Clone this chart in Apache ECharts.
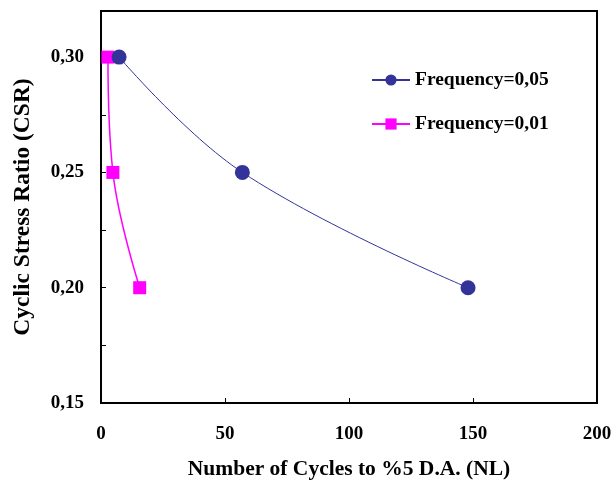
<!DOCTYPE html>
<html>
<head>
<meta charset="utf-8">
<script src="https://cdn.jsdelivr.net/npm/echarts@6/dist/echarts.min.js"></script>
<style>
  html, body { margin: 0; padding: 0; background: #fff; }
  #chart { width: 612px; height: 481px; }
</style>
</head>
<body>
<div id="chart"></div>
<script>
// data
var seriesNames = ["Frequency=0,05", "Frequency=0,01"];
var cycles005 = [7.3, 57, 148];
var csr005 = [0.30, 0.25, 0.20];
var cycles001 = [2.8, 4.8, 15.6];
var csr001 = [0.30, 0.25, 0.20];
var xTicks = [0, 50, 100, 150, 200];

function pairs(xs, ys) {
  return xs.map(function (x, i) { return [x, ys[i]]; });
}

var font = "Liberation Serif";
var chart = echarts.init(document.getElementById("chart"));

chart.setOption({
  animation: false,
  textStyle: { fontFamily: font },
  grid: {
    left: 101, right: 15, top: 11, bottom: 78,
    outerBoundsMode: "none", // keep the plot box fixed
    show: true,
    borderColor: "#000",
    borderWidth: 2
  },
  legend: {
    data: seriesNames,
    orient: "vertical",
    left: 371,
    top: 70,
    padding: 0,
    itemWidth: 38,
    itemHeight: 14,
    itemGap: 24,
    textStyle: { fontFamily: font, fontWeight: "bold", fontSize: 19.5, color: "#000", lineHeight: 20 }
  },
  xAxis: {
    type: "value",
    min: xTicks[0],
    max: xTicks[xTicks.length - 1],
    interval: 50,
    name: "Number of Cycles to %5 D.A. (NL)",
    nameLocation: "middle",
    nameGap: 55,
    nameTextStyle: { fontFamily: font, fontWeight: "bold", fontSize: 21.5, color: "#000" },
    axisLine: { show: true, lineStyle: { color: "#000", width: 2 } },
    axisTick: { show: true, inside: true, length: 5, lineStyle: { color: "#000" } },
    axisLabel: { margin: 22, fontFamily: font, fontWeight: "bold", fontSize: 19, color: "#000" },
    splitLine: { show: false }
  },
  yAxis: {
    type: "value",
    min: 0.15,
    max: 0.32,
    interval: 0.025,
    name: "Cyclic Stress Ratio (CSR)",
    nameLocation: "middle",
    nameGap: 66,
    nameTextStyle: { fontFamily: font, fontWeight: "bold", fontSize: 23.5, color: "#000" },
    axisLine: { show: true, lineStyle: { color: "#000", width: 2 } },
    axisTick: { show: true, inside: true, length: 5, lineStyle: { color: "#000" } },
    axisLabel: {
      margin: 17,
      fontFamily: font, fontWeight: "bold", fontSize: 19, color: "#000",
      formatter: function (v) {
        var k = Math.round(v * 1000);
        return k % 50 === 0 ? v.toFixed(2).replace(".", ",") : "";
      }
    },
    splitLine: { show: false }
  },
  series: [
    {
      name: seriesNames[1],
      type: "line",
      data: pairs(cycles001, csr001),
      smooth: 0.4,
      symbol: "rect",
      symbolSize: 13,
      clip: false,
      z: 2,
      itemStyle: { color: "#FF00FF" },
      lineStyle: { color: "#FF00FF", width: 1.5 }
    },
    {
      name: seriesNames[0],
      type: "line",
      data: pairs(cycles005, csr005),
      smooth: 0.4,
      symbol: "circle",
      symbolSize: 15,
      clip: false,
      z: 3,
      itemStyle: { color: "#333399" },
      lineStyle: { color: "#333399", width: 1 }
    }
  ]
});
</script>
</body>
</html>
